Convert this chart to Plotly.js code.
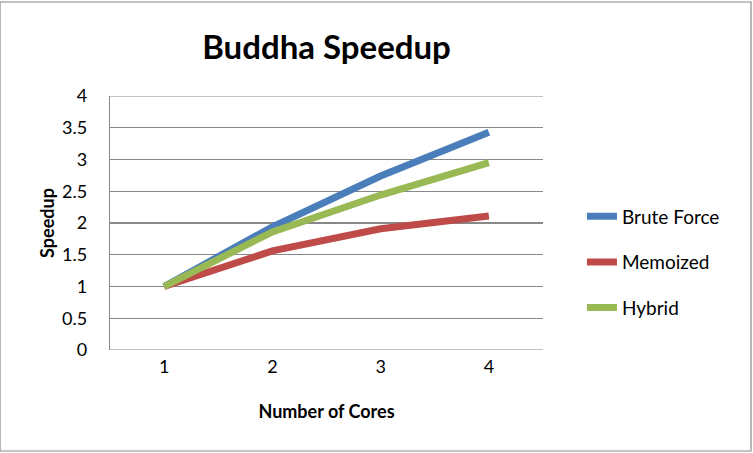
<!DOCTYPE html>
<html><head><meta charset="utf-8">
<script src="https://cdn.plot.ly/plotly-3.0.1.min.js"></script>
<style>html,body{margin:0;padding:0;background:#fff}#c{width:753px;height:453px}</style>
</head><body><div id="c"></div>
<script>
const cores = [1, 2, 3, 4];
const bruteForce = [1, 1.94, 2.74, 3.43];
const memoized = [1, 1.56, 1.91, 2.11];
const hybrid = [1, 1.86, 2.44, 2.95];
const seriesNames = ['Brute Force', 'Memoized', 'Hybrid'];
const colors = ['#4a7ebb', '#be4b48', '#98b954'];
const yTicks = [0, 0.5, 1, 1.5, 2, 2.5, 3, 3.5, 4];

const font = 'Lato, "Open Sans", "Liberation Sans", sans-serif';
const traces = [bruteForce, memoized, hybrid].map((v, i) => ({
  x: cores, y: v, type: 'scatter', mode: 'lines', name: seriesNames[i],
  legendgroup: 'g' + i,
  line: {color: colors[i], width: 7, shape: 'linear'}
}));

const layout = {
  width: 753, height: 453,
  margin: {l: 110, r: 210, t: 96, b: 103},
  paper_bgcolor: '#fff', plot_bgcolor: '#fff',
  font: {family: font, color: '#000', size: 18},
  title: {text: 'Buddha Speedup', font: {family: font, size: 33, color: '#000', weight: 'bold'}, x: 0.5, xref: 'paper', y: 0.895, yref: 'container', yanchor: 'middle'},
  xaxis: {
    range: [0.5, 4.5], tickvals: cores, ticktext: cores.map(String),
    showgrid: false, zeroline: false, showline: false, ticks: '',
    tickfont: {size: 18}, ticklabelstandoff: 4,
    title: {text: 'Number of Cores', font: {size: 18, weight: 'bold'}, standoff: 29}
  },
  yaxis: {
    range: [0, 4], tickvals: yTicks, ticktext: yTicks.map(String),
    showgrid: true, gridcolor: '#888', gridwidth: 1.2,
    zeroline: false, showline: true, linecolor: '#888', linewidth: 1.2,
    ticks: '', tickfont: {size: 18}, ticklabelstandoff: 18,
    title: {text: 'Speedup', font: {size: 18, weight: 'bold'}, standoff: 2}
  },
  legend: {x: 1.09, xanchor: 'left', y: 0.345, yanchor: 'middle',
    font: {size: 19}, tracegroupgap: 18, itemwidth: 30, bgcolor: 'rgba(0,0,0,0)'},
  shapes: [{type: 'rect', xref: 'paper', yref: 'paper', x0: -110/433, x1: 1 + 208/433, y0: -101/254, y1: 1 + 94/254,
    line: {color: '#888', width: 1.2}},
    {type: 'line', xref: 'paper', yref: 'y', x0: 0, x1: 1, y0: 0, y1: 0, line: {color: '#888', width: 1.2}},
    {type: 'line', xref: 'paper', yref: 'y', x0: 0, x1: 1, y0: 4, y1: 4, line: {color: '#888', width: 1.2}}]
};
Plotly.newPlot('c', traces, layout, {displayModeBar: false, staticPlot: true});
</script></body></html>
